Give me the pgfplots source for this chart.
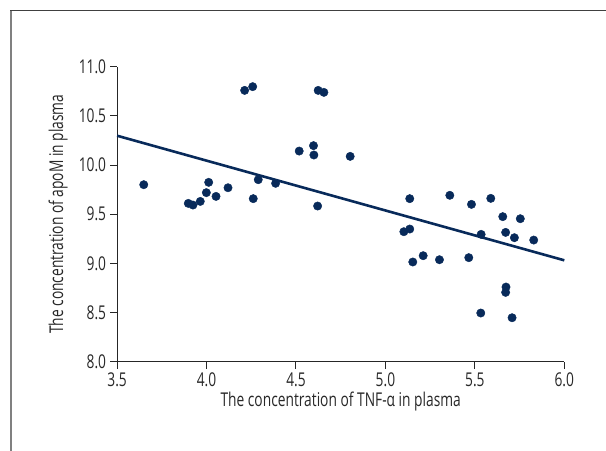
\documentclass[border=0pt]{standalone}
\usepackage{pgfplots}
\pgfplotsset{compat=1.18}
\usepackage{fontspec}
\setmainfont{Open Sans}[FakeStretch=0.725]
\definecolor{navy}{RGB}{8,42,90}
\definecolor{txt}{RGB}{40,40,40}
\begin{document}
\begin{tikzpicture}[x=1bp,y=1bp]
\path[use as bounding box] (0,0) rectangle (606,451);
\draw[black!50, line width=2bp] (11,0) -- (11,440.5);
\draw[black!75, line width=1.2bp] (10,440.5) -- (606,440.5);
\begin{axis}[
  at={(117.1bp,89.3bp)}, anchor=south west,
  scale only axis, width=447.2bp, height=295bp,
  xmin=3.5, xmax=6, ymin=8, ymax=11,
  axis x line*=bottom, axis y line*=left,
  axis line style={black!85, line width=1bp},
  xtick={3.5,4,4.5,5,5.5,6}, ytick={8,8.5,9,9.5,10,10.5,11},
  tick align=outside, major tick length=7bp,
  tick style={black!85, line width=1bp},
  /pgf/number format/assume math mode=true,
  /pgf/number format/fixed, /pgf/number format/precision=1, /pgf/number format/fixed zerofill,
  tick label style={font=\fontsize{19bp}{21bp}\selectfont, text=txt},
  label style={font=\fontsize{19bp}{21bp}\selectfont, text=txt},
  xticklabel style={yshift=-0.5bp},
  yticklabel style={xshift=-0.5bp},
  xlabel={The concentration of TNF-α in plasma},
  ylabel={The concentration of apoM in plasma},
  xlabel style={at={(axis description cs:0.5,-0.1525)}, anchor=base},
  ylabel style={at={(axis description cs:-0.1208,0.5)}, anchor=base},
  clip=false,
]
\addplot[navy, line width=2.6bp] coordinates {(3.5,10.298) (6.0,9.031)};
\addplot[only marks, mark=*, mark size=4.2bp, mark options={fill=navy, draw=navy}] coordinates {
(3.649,9.800) (3.898,9.610) (3.924,9.593) (3.965,9.630) (3.999,9.719)
(4.012,9.824) (4.053,9.681) (4.120,9.769) (4.213,10.759) (4.258,10.797)
(4.261,9.658) (4.289,9.851) (4.386,9.814) (4.518,10.142) (4.598,10.197)
(4.600,10.102) (4.624,10.759) (4.656,10.739) (4.621,9.583) (4.803,10.088)
(5.103,9.322) (5.136,9.349) (5.136,9.658) (5.153,9.014) (5.211,9.078)
(5.302,9.037) (5.360,9.692) (5.466,9.058) (5.481,9.600) (5.533,8.495)
(5.535,9.295) (5.589,9.661) (5.656,9.475) (5.672,9.315) (5.674,8.759)
(5.672,8.705) (5.708,8.447) (5.721,9.261) (5.754,9.454) (5.829,9.237)
};
\end{axis}
\end{tikzpicture}
\end{document}
